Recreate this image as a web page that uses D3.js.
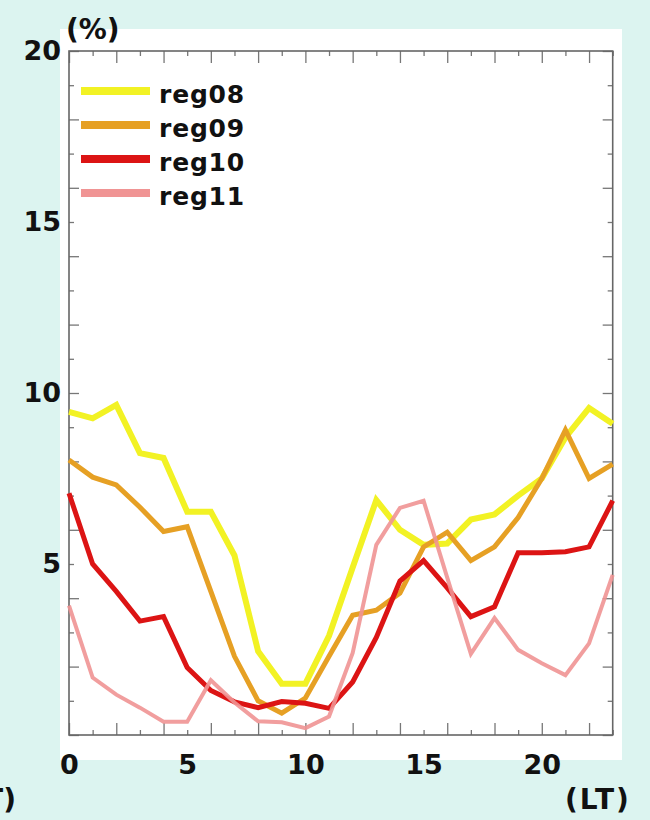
<!DOCTYPE html>
<html>
<head>
<meta charset="utf-8">
<script src="https://cdn.jsdelivr.net/npm/d3@7"></script>
<style>
  html, body { margin: 0; padding: 0; background: #dcf4f0; }
  svg { display: block; }
  text { font-family: "DejaVu Sans", Verdana, sans-serif; font-weight: bold; fill: #111; }
</style>
</head>
<body>
<svg id="chart" width="650" height="820"></svg>
<script>
// Local time (hours) along the x axis
const hours = [0, 1, 2, 3, 4, 5, 6, 7, 8, 9, 10, 11, 12, 13, 14, 15, 16, 17, 18, 19, 20, 21, 22, 23];

// Occurrence rate (%) per hour for each region
const reg08 = [9.45, 9.26, 9.65, 8.24, 8.1, 6.53, 6.53, 5.25, 2.45, 1.5, 1.5, 2.9,
               4.9, 6.87, 6.0, 5.56, 5.6, 6.3, 6.45, 7.0, 7.5, 8.7, 9.56, 9.1];
const reg09 = [8.04, 7.54, 7.31, 6.66, 5.95, 6.09, 4.2, 2.3, 1.0, 0.64, 1.08, 2.3,
               3.5, 3.65, 4.15, 5.5, 5.93, 5.1, 5.5, 6.36, 7.5, 8.92, 7.5, 7.92];
const reg10 = [7.07, 5.0, 4.2, 3.33, 3.46, 1.97, 1.3, 0.97, 0.8, 0.98, 0.93, 0.78,
               1.55, 2.85, 4.5, 5.1, 4.3, 3.46, 3.75, 5.33, 5.33, 5.36, 5.5, 6.85];
const reg11 = [3.78, 1.68, 1.18, 0.8, 0.39, 0.39, 1.6, 0.95, 0.4, 0.37, 0.2, 0.54,
               2.4, 5.56, 6.64, 6.85, 4.6, 2.37, 3.42, 2.49, 2.1, 1.75, 2.68, 4.68];

const seriesNames = ["reg08", "reg09", "reg10", "reg11"];
const seriesValues = [reg08, reg09, reg10, reg11];
const seriesColors = ["#f2f224", "#e6a024", "#dc1414", "#f09494"];
const seriesWidths = [6, 5, 5, 4];

const yMajorTicks = [0, 2, 4, 6, 8, 10, 12, 14, 16, 18, 20];
const yMinorTicks = [1, 3, 5, 7, 9, 11, 13, 15, 17, 19];
const yLabelTicks = [5, 10, 15, 20];
const xMajorTicks = [0, 2, 4, 6, 8, 10, 12, 14, 16, 18, 20, 22];
const xMinorTicks = [1, 3, 5, 7, 9, 11, 13, 15, 17, 19, 21, 23];
const xLabelTicks = [0, 5, 10, 15, 20];

const svg = d3.select("#chart");

const x = d3.scaleLinear().domain([0, 23]).range([69, 612.7]);
const y = d3.scaleLinear().domain([0, 20]).range([735, 51]);

// white plotting panel
svg.append("rect")
  .attr("x", 60).attr("y", 29)
  .attr("width", 562).attr("height", 731)
  .attr("fill", "#ffffff");

// inward ticks on all four sides
function tickGroup(axis, transform) {
  const g = svg.append("g").attr("transform", transform).call(axis);
  g.select(".domain").remove();
  g.selectAll("text").remove();
  g.selectAll("line").attr("stroke", "#777").attr("stroke-width", 1.3);
  return g;
}
tickGroup(d3.axisTop(x).tickValues(xMajorTicks).tickSize(12), `translate(0,${y(0)})`);
tickGroup(d3.axisTop(x).tickValues(xMinorTicks).tickSize(5), `translate(0,${y(0)})`);
tickGroup(d3.axisBottom(x).tickValues(xMajorTicks).tickSize(12), `translate(0,${y(20)})`);
tickGroup(d3.axisBottom(x).tickValues(xMinorTicks).tickSize(5), `translate(0,${y(20)})`);
tickGroup(d3.axisRight(y).tickValues(yMajorTicks).tickSize(10), `translate(${x(0)},0)`);
tickGroup(d3.axisRight(y).tickValues(yMinorTicks).tickSize(5), `translate(${x(0)},0)`);
tickGroup(d3.axisLeft(y).tickValues(yMajorTicks).tickSize(10), `translate(${x(23)},0)`);
tickGroup(d3.axisLeft(y).tickValues(yMinorTicks).tickSize(5), `translate(${x(23)},0)`);

// frame
svg.append("rect")
  .attr("x", x(0)).attr("y", y(20))
  .attr("width", x(23) - x(0)).attr("height", y(0) - y(20))
  .attr("fill", "none").attr("stroke", "#666").attr("stroke-width", 1.6);

// tick labels
const yLab = svg.append("g").attr("transform", `translate(${x(0) - 8},0)`)
  .call(d3.axisLeft(y).tickValues(yLabelTicks).tickSize(0).tickPadding(0));
yLab.select(".domain").remove();
yLab.selectAll("text").attr("font-size", 27).attr("font-family", null).attr("fill", "#111")
  .attr("dy", "0.3em");

const xLab = svg.append("g").attr("transform", `translate(0,${y(0)})`)
  .call(d3.axisBottom(x).tickValues(xLabelTicks).tickSize(0).tickPadding(0));
xLab.select(".domain").remove();
xLab.selectAll("text").attr("font-size", 27).attr("font-family", null).attr("fill", "#111")
  .attr("dy", null).attr("y", 39);

// unit labels
svg.append("text").attr("x", 66).attr("y", 39).attr("font-size", 28).text("(%)");
svg.append("text").attr("x", 565).attr("y", 809).attr("font-size", 28)
  .attr("letter-spacing", 2).text("(LT)");
svg.append("text").attr("x", 16).attr("y", 809).attr("font-size", 28)
  .attr("text-anchor", "end").text("(LT)");

// series lines
const line = d3.line().x((d, i) => x(hours[i])).y(d => y(d));
seriesValues.forEach((vals, k) => {
  svg.append("path")
    .datum(vals)
    .attr("d", line)
    .attr("fill", "none")
    .attr("stroke", seriesColors[k])
    .attr("stroke-width", seriesWidths[k])
    .attr("stroke-linejoin", "miter")
    .attr("stroke-opacity", k === 3 ? 0.9 : 1);
});

// legend
const legend = svg.append("g");
seriesNames.forEach((name, k) => {
  const ly = 91 + k * 34;
  legend.append("line")
    .attr("x1", 81).attr("x2", 150).attr("y1", ly).attr("y2", ly)
    .attr("stroke", seriesColors[k]).attr("stroke-width", 8);
  legend.append("text")
    .attr("x", 159).attr("y", ly + 12)
    .attr("font-size", 25).attr("letter-spacing", 0.8)
    .text(name);
});
</script>
</body>
</html>
